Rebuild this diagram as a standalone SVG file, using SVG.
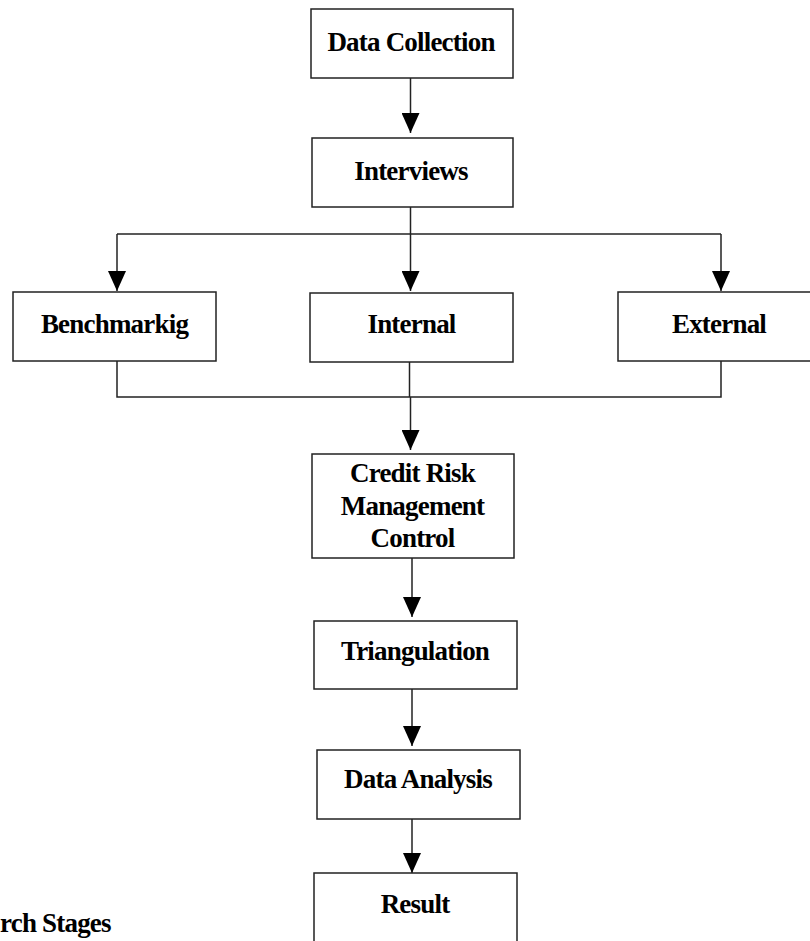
<svg xmlns="http://www.w3.org/2000/svg" width="810" height="941" viewBox="0 0 810 941">
<style>
.box{fill:#fff;stroke:#222;stroke-width:1.5}
.lbl{font-family:"Liberation Serif","Times New Roman",serif;font-weight:bold;font-size:27px;letter-spacing:-0.8px;fill:#000;text-anchor:middle}
.ln{fill:none;stroke:#222;stroke-width:1.5}
</style>
<defs>
<marker id="ah" markerUnits="userSpaceOnUse" markerWidth="20" markerHeight="18" refX="20" refY="9" orient="auto" viewBox="0 0 20 18">
<path d="M0,0 L20,9 L0,18 Z" fill="#000"/>
</marker>
</defs>
<rect width="810" height="941" fill="#fff"/>
<g id="connectors">
<line class="ln" x1="410.5" y1="78" x2="410.5" y2="133" marker-end="url(#ah)"/>
<line class="ln" x1="410.5" y1="207" x2="410.5" y2="234"/>
<line class="ln" x1="117" y1="234" x2="721" y2="234"/>
<line class="ln" x1="117" y1="234" x2="117" y2="291" marker-end="url(#ah)"/>
<line class="ln" x1="410.5" y1="234" x2="410.5" y2="291" marker-end="url(#ah)"/>
<line class="ln" x1="721" y1="234" x2="721" y2="291" marker-end="url(#ah)"/>
<polyline class="ln" points="117,361 117,397 721,397 721,361"/>
<line class="ln" x1="409.5" y1="362" x2="409.5" y2="397"/>
<line class="ln" x1="410.5" y1="397" x2="410.5" y2="450" marker-end="url(#ah)"/>
<line class="ln" x1="412" y1="558" x2="412" y2="617" marker-end="url(#ah)"/>
<line class="ln" x1="412" y1="689" x2="412" y2="746" marker-end="url(#ah)"/>
<line class="ln" x1="412" y1="819" x2="412" y2="873" marker-end="url(#ah)"/>
</g>
<g id="data-collection">
<rect class="box" x="311" y="9" width="202" height="69"/>
<text class="lbl" x="411" y="51">Data Collection</text>
</g>
<g id="interviews">
<rect class="box" x="312" y="138" width="201" height="69"/>
<text class="lbl" x="411" y="180">Interviews</text>
</g>
<g id="benchmarkig">
<rect class="box" x="13" y="292" width="203" height="69"/>
<text class="lbl" x="114.5" y="333">Benchmarkig</text>
</g>
<g id="internal">
<rect class="box" x="310" y="293" width="203" height="69"/>
<text class="lbl" x="411.5" y="333">Internal</text>
</g>
<g id="external">
<rect class="box" x="618" y="292" width="205" height="69"/>
<text class="lbl" x="719" y="333">External</text>
</g>
<g id="credit-risk">
<rect class="box" x="312" y="454" width="202" height="104"/>
<text class="lbl" x="412.5" y="482">Credit Risk</text>
<text class="lbl" x="412.5" y="515">Management</text>
<text class="lbl" x="412.5" y="547">Control</text>
</g>
<g id="triangulation">
<rect class="box" x="314" y="621" width="203" height="68"/>
<text class="lbl" x="415" y="660">Triangulation</text>
</g>
<g id="data-analysis">
<rect class="box" x="317" y="750" width="203" height="69"/>
<text class="lbl" x="418" y="788">Data Analysis</text>
</g>
<g id="result">
<rect class="box" x="314" y="873" width="203" height="80"/>
<text class="lbl" x="415" y="913">Result</text>
</g>
<text class="lbl" x="0" y="932" style="text-anchor:start">rch Stages</text>
</svg>
